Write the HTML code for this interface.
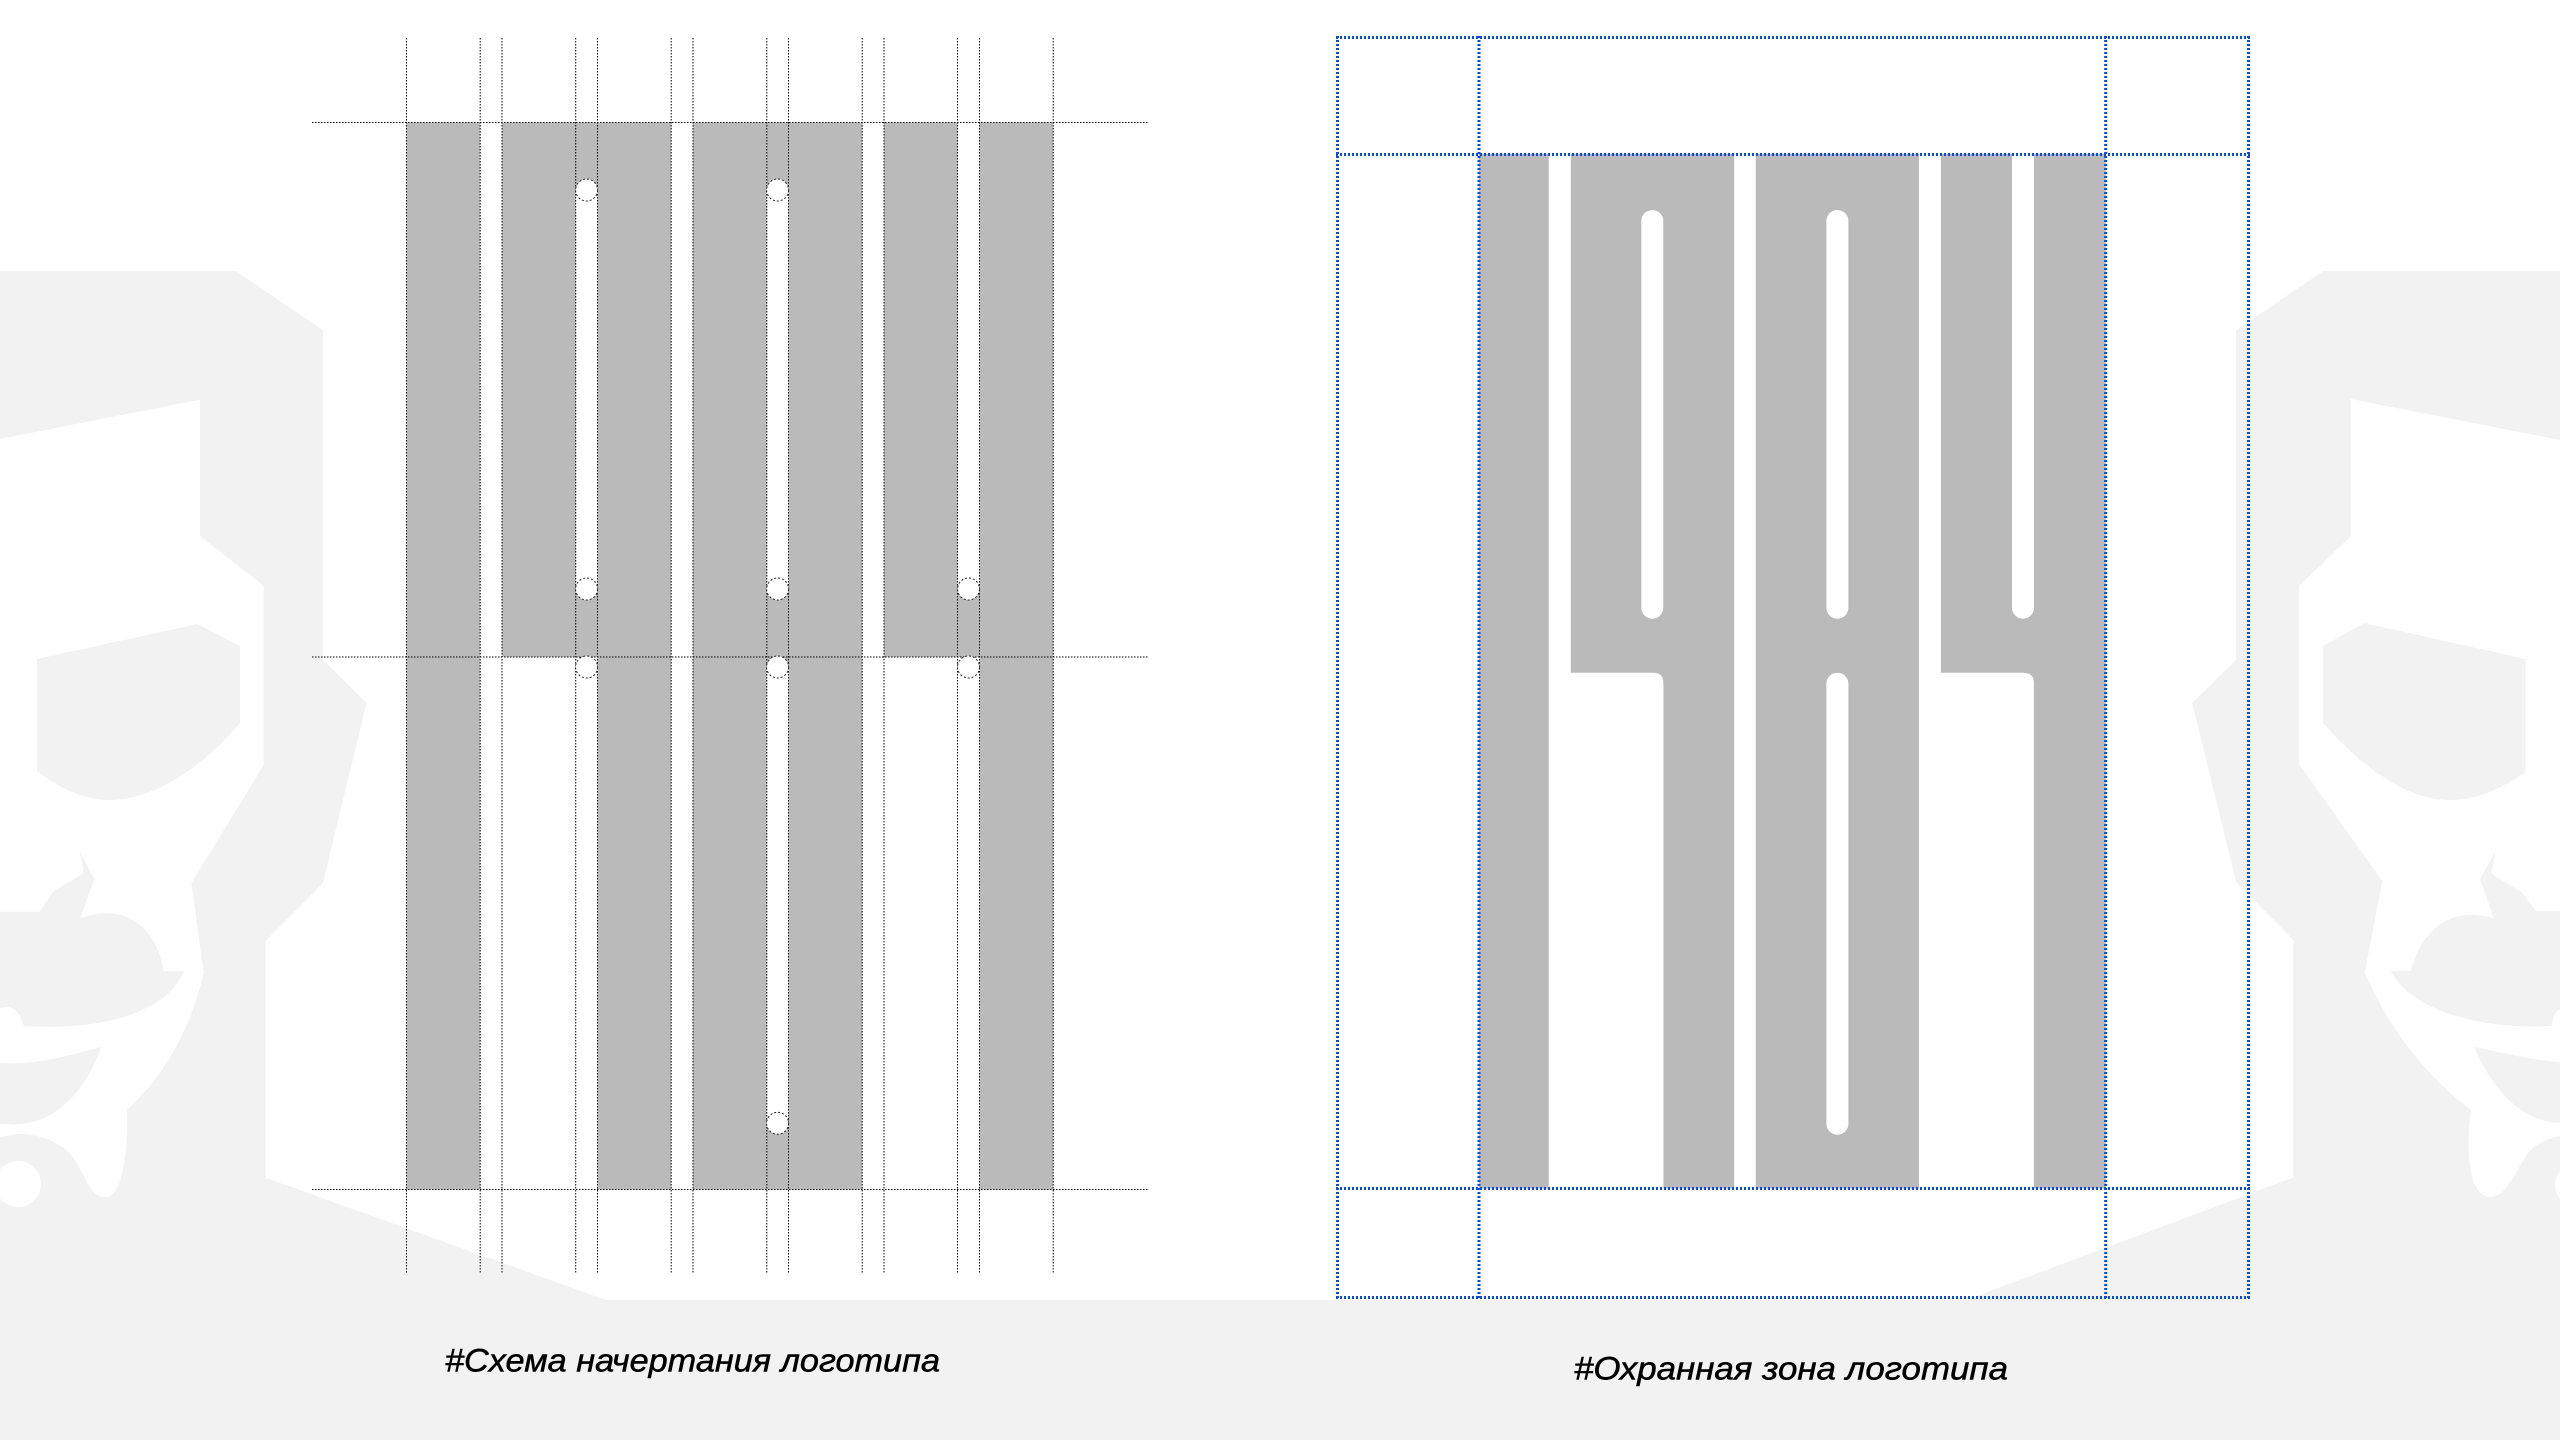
<!DOCTYPE html>
<html lang="ru">
<head>
<meta charset="utf-8">
<title>Логотип</title>
<style>
html,body{margin:0;padding:0;background:#fff;width:2560px;height:1440px;overflow:hidden}
svg{display:block}
</style>
</head>
<body>
<svg xmlns="http://www.w3.org/2000/svg" width="2560" height="1440" viewBox="0 0 2560 1440">
  <rect width="2560" height="1440" fill="#fff"/>
  <!-- background silhouette -->
  <path fill="#f2f2f2" d="M0,271 L235.7,271 L323,330 L323,660 L366.7,703 L343,800 L323,883 L265.7,941 L265.7,1177.7 L606,1300 L1966,1300 L2293.3,1177.5 L2293.3,940 L2236,882 L2192.3,703 L2236,660 L2236,330 L2323.3,271 L2560,271 L2560,1440 L0,1440 Z"/>
  <!-- left face -->
  <path fill="#fff" d="M0,439 L200,399.6 L200,536.4 L263.7,585.7 L263.7,765 L191.4,883 L203.7,973 C190,1030 165,1075 127,1110 C128,1165 120,1197 105,1197 C85,1197 84,1160 62,1147 C48,1137 30,1133 16,1134 L0,1137 Z"/>
  <path fill="#f2f2f2" d="M37,659 L197.3,624 L240,646 L240,723 C205,765 155,800 110,800 C80,800 55,785 37,771 Z"/>
  <path fill="#f2f2f2" d="M0,911.7 L39.6,911.7 L53,891.7 L83.7,873 L79.6,850.7 L94.3,879 L80.4,918 C125,903 155,925 164,971 L184,971 C170,1010 105,1032 23.3,1025.7 C20,1012 13,1007 7,1007 L0,1008 Z"/>
  <path fill="#f2f2f2" d="M0,1063 C35,1065 65,1057 101,1046.7 C85,1095 50,1128 8,1124 L0,1124 Z"/>
  <ellipse cx="18" cy="1184" rx="23" ry="23" fill="#fff"/>
  <!-- right face -->
  <path fill="#fff" d="M2560,440 L2350.7,399 L2350.7,536.4 L2299,586 L2299,764 L2382.3,881 L2364.7,972.8 C2390,1030 2425,1075 2471,1110 C2465,1155 2470,1197 2490,1197 C2505,1197 2512,1178 2526.7,1155 C2535,1143 2548,1138 2560,1136.5 Z"/>
  <path fill="#f2f2f2" d="M2323,646 L2364.3,623 L2525.7,659 L2525.7,772 C2500,790 2475,800 2450,800 C2405,800 2360,765 2323,723 Z"/>
  <path fill="#f2f2f2" d="M2560,911 L2536,911 L2521.7,892 L2491,873.3 L2495.3,852 L2480,879 L2494,918.4 C2450,905 2422,930 2410.7,970.8 L2390.7,970.8 C2410,1010 2480,1030 2551.7,1025.8 C2553,1015 2557,1010 2560,1009 Z"/>
  <path fill="#f2f2f2" d="M2474,1047 C2505,1053 2530,1060 2560,1062 L2560,1123 C2525,1122 2495,1095 2474,1047 Z"/>
  <ellipse cx="2579" cy="1185" rx="24" ry="23" fill="#fff"/>

  <!-- left logo -->
  <g fill="#bababa">
    <rect x="406.5" y="122.5" width="73.7" height="1067"/>
    <path d="M502,122.5 H671.2 V1189.5 H597.5 V657 H502 Z"/>
    <rect x="693" y="122.5" width="169.2" height="1067"/>
    <path d="M884,122.5 H957.5 V657 H884 Z"/>
    <rect x="957.5" y="589" width="22" height="68"/>
    <rect x="979.5" y="122.5" width="73.7" height="1067"/>
  </g>
  <g fill="#fff">
    <rect x="575.7" y="190" width="21.8" height="399"/>
    <rect x="766.8" y="190" width="21.7" height="399"/>
    <rect x="766.8" y="667" width="21.7" height="456"/>
    <rect x="957.5" y="122.5" width="22" height="467"/>
  </g>
  <g stroke="#000" stroke-width="1" stroke-dasharray="1.5 1.5" fill="none">
    <path d="M406.5,38V1274M480.2,38V1274M502,38V1274M575.7,38V1274M597.5,38V1274M671.2,38V1274M693,38V1274M766.8,38V1274M788.5,38V1274M862.2,38V1274M884,38V1274M957.5,38V1274M979.5,38V1274M1053.2,38V1274"/>
    <path d="M312,122.5H1147.5M312,657H1147.5M312,1189.5H1147.5"/>
  </g>
  <g fill="#fff" stroke="#222" stroke-width="1" stroke-dasharray="2 2">
    <circle cx="586.6" cy="190" r="11"/>
    <circle cx="777.6" cy="190" r="11"/>
    <circle cx="586.6" cy="589" r="11"/>
    <circle cx="777.6" cy="589" r="11"/>
    <circle cx="968.5" cy="589" r="11"/>
    <circle cx="586.6" cy="667" r="11"/>
    <circle cx="777.6" cy="667" r="11"/>
    <circle cx="968.5" cy="667" r="11"/>
    <circle cx="777.6" cy="1123.3" r="11"/>
  </g>

  <!-- right logo -->
  <g fill="#bababa">
    <rect x="1479" y="154" width="69.7" height="1034.5"/>
    <path d="M1570.8,154 H1734.2 V1188.5 H1663.4 V683 Q1663.4,672.7 1653,672.7 H1570.8 Z"/>
    <rect x="1755.7" y="154" width="163.3" height="1034.5"/>
    <path d="M1940.9,154 H2105.7 V1188.5 H2033.9 V683 Q2033.9,672.7 2023.5,672.7 H1940.9 Z"/>
  </g>
  <g fill="#fff">
    <rect x="1641.3" y="210" width="22" height="408.7" rx="11"/>
    <rect x="1826.4" y="210" width="22" height="408.7" rx="11"/>
    <rect x="1826.4" y="672.7" width="22" height="462" rx="11"/>
    <rect x="2012" y="140" width="22" height="478.7" rx="11"/>
    <rect x="2012" y="140" width="22" height="30"/>
  </g>
  <g stroke="#0a4cd6" stroke-width="3" stroke-dasharray="2 2" fill="none">
    <path d="M1337.5,36V1299M1479,36V1299M2105.7,36V1299M2248.5,36V1299"/>
    <path d="M1336,37.5H2250M1336,154.5H2250M1336,1188.5H2250M1336,1297.5H2250"/>
  </g>

  <!-- captions -->
  <g font-family="'Liberation Sans', 'DejaVu Sans', sans-serif" font-style="italic" font-size="32" fill="#000" stroke="#000" stroke-width="0.5">
    <text x="445" y="1371.5" textLength="495" lengthAdjust="spacingAndGlyphs">#Схема начертания логотипа</text>
    <text x="1574" y="1379.5" textLength="434" lengthAdjust="spacingAndGlyphs">#Охранная зона логотипа</text>
  </g>
</svg>
</body>
</html>
